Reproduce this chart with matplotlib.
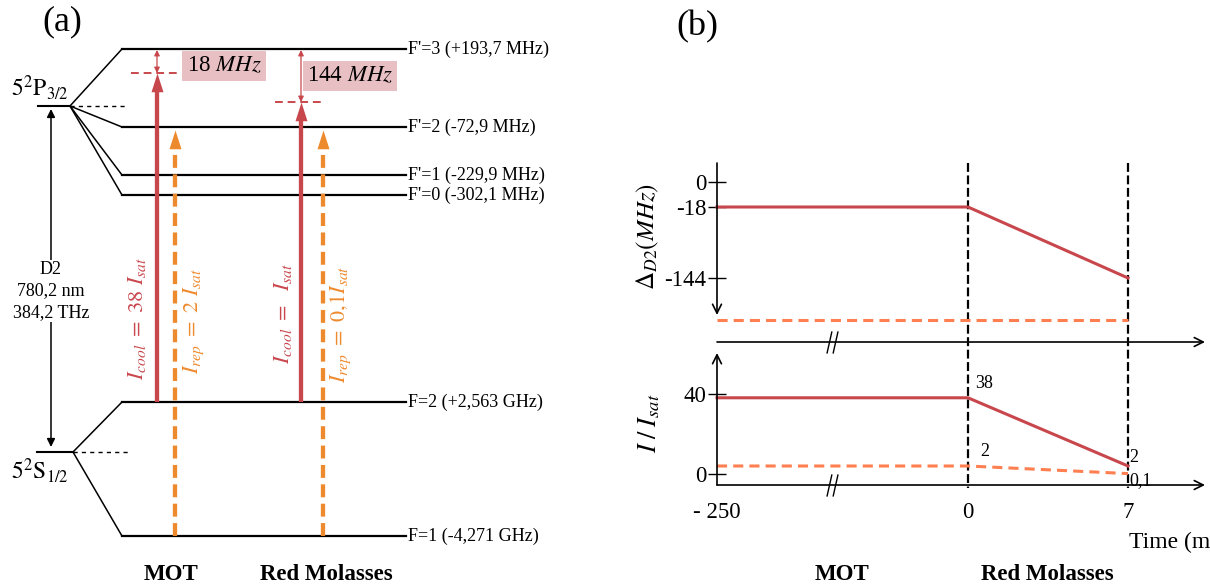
import numpy as np
import matplotlib
matplotlib.use('Agg')
from matplotlib import pyplot as plt
from matplotlib import transforms
from matplotlib.path import Path

plt.rcParams['font.family'] = ['Liberation Serif', 'DejaVu Serif']
plt.rcParams['mathtext.fontset'] = 'stix'

RED = '#C8474D'
ORANGE = '#EE8A2E'
CORAL = '#FF7F50'
PINK = '#E8BFC3'

# ---- (a) level scheme ----
upper_levels = ["F'=3 (+193,7 MHz)", "F'=2 (-72,9 MHz)", "F'=1 (-229,9 MHz)", "F'=0 (-302,1 MHz)"]
upper_level_y = [49, 127, 175, 195]
lower_levels = ["F=2 (+2,563 GHz)", "F=1 (-4,271 GHz)"]
lower_level_y = [402, 536]

laser_x = [157, 175, 301, 323]
laser_from = [402, 536, 402, 536]
laser_to = [73, 130, 102, 130]
laser_color = [RED, ORANGE, RED, ORANGE]
laser_dashed = [False, True, False, True]
laser_text = [r'$I_{cool}\ =\ 38\ I_{sat}$', r'$I_{rep}\ =\ 2\ I_{sat}$',
              r'$I_{cool}\ =\ \ I_{sat}$', r'$I_{rep}\ =\ 0{,}1 I_{sat}$']
laser_text_x = [137, 194, 283, 341]
laser_text_y = [318, 321, 314, 324]

det_text = ['18 $MHz$', '144 $MHz$']
det_box_xy = [(224, 66), (350, 76)]

# ---- (b) timing ----
time_ms = [-250, 0, 7]
time_labels = ['- 250', '0', '7']
cool_detuning = [-18, -18, -144]
rep_detuning_t = [-250, 7]
rep_detuning = [-218, -218]
det_ticks = [0, -18, -144]
cool_int = [38, 38, 2]
rep_int = [2, 2, 0.1]
int_ticks = [0, 40]


def piecewise(a, b):
    a = np.asarray(a, float)
    b = np.asarray(b, float)

    def make(p, q):
        s0 = (q[1] - q[0]) / (p[1] - p[0])
        s1 = (q[-1] - q[-2]) / (p[-1] - p[-2])

        def f(v):
            v = np.asarray(v, float)
            out = np.interp(v, p, q)
            out = np.where(v < p[0], q[0] + (v - p[0]) * s0, out)
            out = np.where(v > p[-1], q[-1] + (v - p[-1]) * s1, out)
            return out
        return f
    return make(a, b), make(b, a)


W, H = 1210, 586


def fig_rect(x0, y0, x1, y1):
    return [x0 / W, 1 - y1 / H, (x1 - x0) / W, (y1 - y0) / H]


fig = plt.figure(figsize=(12.1, 5.86), dpi=100)
bg = fig.add_axes([0, 0, 1, 1])
bg.set_xlim(0, W)
bg.set_ylim(H, 0)
bg.axis('off')

# levels
for y, lab in zip(upper_level_y, upper_levels):
    bg.plot([122, 406], [y, y], color='k', lw=1.6)
    bg.text(408, y, lab, va='center', ha='left', fontsize=13)
    bg.plot([70, 122], [106, y], color='k', lw=1.1)
for y, lab in zip(lower_level_y, lower_levels):
    bg.plot([122, 406], [y, y], color='k', lw=1.6)
    bg.text(408, y, lab, va='center', ha='left', fontsize=13)
    bg.plot([73, 122], [452, y], color='k', lw=1.1)

bg.plot([38, 70], [106, 106], color='k', lw=1.5)
bg.plot([70, 128], [106, 106], color='k', lw=1, ls=(0, (3, 3)))
bg.plot([37, 73], [452, 452], color='k', lw=1.5)
bg.plot([73, 128], [452, 452], color='k', lw=1, ls=(0, (3, 3)))
bg.text(11, 88, r'$\mathrm{5^2P_{3/2}}$', fontsize=17, va='center', ha='left')
bg.text(11, 471, r'$\mathrm{5^2S_{1/2}}$', fontsize=17, va='center', ha='left')

bg.annotate('', xy=(51, 109), xytext=(51, 447),
            arrowprops=dict(arrowstyle='<|-|>', color='k', lw=1.1, mutation_scale=12,
                            shrinkA=0, shrinkB=0))
bg.text(51, 291, 'D2\n780,2 nm\n384,2 THz', ha='center', va='center', fontsize=13,
        linespacing=1.35, zorder=5, bbox=dict(fc='white', ec='none', pad=1))

# lasers
head = [(0, 0), (-0.32, -1), (0.32, -1), (0, 0)]
for x, y0, y1, c, dsh in zip(laser_x, laser_from, laser_to, laser_color, laser_dashed):
    ls = (0, (3, 1.5)) if dsh else '-'
    bg.plot([x, x], [y0, y1 + 12], color=c, lw=3.1, ls=ls, solid_capstyle='butt', zorder=4)
    bg.plot(x, y1, marker=head, ms=27, color=c, mew=0, zorder=5)
for x, y, t, c in zip(laser_text_x, laser_text_y, laser_text, laser_color):
    bg.text(x, y, t, rotation=90, ha='center', va='center', color=c, fontsize=16)

# detuning marks
for x, y, t, xy in zip(laser_x[::2], laser_to[::2], det_text, det_box_xy):
    bg.plot([x - 26, x + 24], [y, y], color=RED, lw=1.4, ls=(0, (4, 2.5)))
    bg.annotate('', xy=(x, 50), xytext=(x, y),
                arrowprops=dict(arrowstyle='<|-|>', color=RED, lw=0.9, mutation_scale=8,
                                shrinkA=0, shrinkB=0))
    bg.text(xy[0], xy[1], t, ha='center', va='center', fontsize=16.5,
            bbox=dict(boxstyle='square,pad=0.18', fc=PINK, ec='none'))

bg.text(62, 22, '(a)', fontsize=26, ha='center', va='center')
bg.text(697, 27, '(b)', fontsize=26, ha='center', va='center')
for x, lab in [(171, 'MOT'), (326, 'Red Molasses'), (842, 'MOT'), (1047, 'Red Molasses')]:
    bg.text(x, 575, lab, fontsize=16.5, fontweight='bold', ha='center', va='center')

# ---- (b) timing axes ----
t_fwd, t_inv = piecewise([-250, 0, 7], [717, 968, 1128])
d_fwd, d_inv = piecewise([-144, -18, 0], [-278, -207, -182])
i_fwd, i_inv = piecewise([0, 2, 40], [-474, -466, -394])

brk = Path([(-0.5, -1), (-0.05, 1), (0.05, -1), (0.5, 1)],
           [Path.MOVETO, Path.LINETO, Path.MOVETO, Path.LINETO])

ax1 = fig.add_axes(fig_rect(717, 160, 1205, 342))
ax2 = fig.add_axes(fig_rect(717, 353, 1205, 485))
for ax in (ax1, ax2):
    ax.patch.set_alpha(0)
    ax.set_xscale('function', functions=(t_fwd, t_inv))
    ax.set_xlim(-250, float(t_inv(1205)))
    for s in ax.spines.values():
        s.set_visible(False)
    ax.annotate('', xy=(1, 0), xytext=(0, 0), xycoords='axes fraction',
                arrowprops=dict(arrowstyle='->', color='k', lw=1.2, mutation_scale=16,
                                shrinkA=0, shrinkB=0))
    ax.plot([-135], [0], transform=ax.get_xaxis_transform(), marker=brk, ms=16,
            mew=1, color='k', mfc='none', clip_on=False)

ax1.set_yscale('function', functions=(d_fwd, d_inv))
ax1.set_ylim(float(d_inv(-342)), float(d_inv(-160)))
ax1.minorticks_off()
ax1.set_xticks([])
ax1.set_yticks(det_ticks, [str(v) for v in det_ticks])
ax1.tick_params(axis='y', direction='inout', length=13, width=1, labelsize=16.5, pad=1)
ax1.annotate('', xy=(0, 27 / 182), xytext=(0, 1 - 3 / 182), xycoords='axes fraction',
             arrowprops=dict(arrowstyle='->', color='k', lw=1.2, mutation_scale=16,
                             shrinkA=0, shrinkB=0))
ax1.plot(time_ms, cool_detuning, color=RED, lw=2.2, clip_on=False)
ax1.plot(rep_detuning_t, rep_detuning, color=CORAL, lw=2.2, ls=(0, (3.3, 2)), clip_on=False)

ax2.set_yscale('function', functions=(i_fwd, i_inv))
ax2.set_ylim(float(i_inv(-485)), float(i_inv(-353)))
ax2.minorticks_off()
ax2.set_yticks(int_ticks, [str(v) for v in int_ticks])
ax2.tick_params(axis='y', direction='inout', length=13, width=1, labelsize=16.5, pad=1)
ax2.set_xticks(time_ms, time_labels)
ax2.tick_params(axis='x', length=0, labelsize=16.5, pad=12)
ax2.annotate('', xy=(0, 1), xytext=(0, 0), xycoords='axes fraction',
             arrowprops=dict(arrowstyle='->', color='k', lw=1.2, mutation_scale=16,
                             shrinkA=0, shrinkB=0))
ax2.plot(time_ms, cool_int, color=RED, lw=2.2, clip_on=False)
ax2.plot(time_ms, rep_int, color=CORAL, lw=2.2, ls=(0, (3.3, 2)), clip_on=False)
ax2.annotate(str(cool_int[1]), (time_ms[1], cool_int[1]), xytext=(5, 4),
             textcoords='offset points', fontsize=13, ha='left', va='bottom')
ax2.annotate(str(rep_int[1]), (time_ms[1], rep_int[1]), xytext=(9, 4),
             textcoords='offset points', fontsize=13, ha='left', va='bottom')
ax2.annotate(str(cool_int[2]), (time_ms[2], cool_int[2]), xytext=(1, 0),
             textcoords='offset points', fontsize=13, ha='left', va='bottom')
ax2.annotate(str(rep_int[2]).replace('.', ','), (time_ms[2], rep_int[2]), xytext=(1, 1),
             textcoords='offset points', fontsize=13, ha='left', va='top')

# phase boundaries across both panels
blend = transforms.blended_transform_factory(ax2.transData, bg.transData)
bg.vlines(time_ms[1:], 163, 488, transform=blend, colors='k', lw=1.6, linestyles=(0, (4, 1.6)))

bg.text(648, 237, r'$\Delta_{D2}(MHz)$', rotation=90, ha='center', va='center', fontsize=18)
bg.text(649, 423, r'$I\;/\;I_{sat}$', rotation=90, ha='center', va='center', fontsize=19)
# the time label runs off the right edge, as in the original figure
bg.text(1129, 542, 'Time (ms)', ha='left', va='center', fontsize=17)

plt.savefig('out.png', dpi=100)
